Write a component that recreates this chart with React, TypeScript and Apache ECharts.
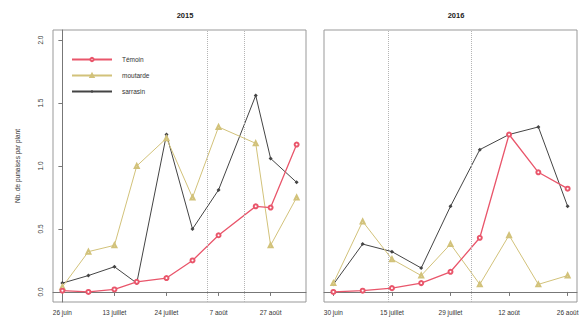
import React, { useEffect, useRef } from "react";
import * as echarts from "echarts";

// Sampling days (days since first sampling) for each year
const days2015 = [0, 7, 14, 20, 28, 35, 42, 52, 56, 63];
const days2016 = [0, 7, 14, 21, 28, 35, 42, 49, 56];

// Series values (Nb. de punaises par plant)
const temoin2015 = [0.01, 0.0, 0.02, 0.08, 0.11, 0.25, 0.45, 0.68, 0.67, 1.17];
const moutarde2015 = [0.04, 0.32, 0.37, 1.0, 1.22, 0.75, 1.31, 1.18, 0.37, 0.75];
const sarrasin2015 = [0.07, 0.13, 0.2, 0.07, 1.25, 0.5, 0.81, 1.56, 1.06, 0.87];

const temoin2016 = [0.0, 0.01, 0.03, 0.07, 0.16, 0.43, 1.25, 0.95, 0.82];
const moutarde2016 = [0.07, 0.56, 0.26, 0.13, 0.38, 0.06, 0.45, 0.06, 0.13];
const sarrasin2016 = [0.06, 0.38, 0.32, 0.19, 0.68, 1.13, 1.25, 1.31, 0.68];

// Tick positions (days) and labels
const tickDays = [0, 14, 28, 42, 56];
const tickLabels2015 = ["26 juin", "13 juillet", "24 juillet", "7 août", "27 août"];
const tickLabels2016 = ["30 juin", "15 juillet", "29 juillet", "12 août", "26 août"];
const yTicks = [0, 0.5, 1.0, 1.5, 2.0];

// Vertical reference lines (days)
const vlines2015 = [39, 49];
const vlines2016 = [13, 33];

const seriesNames = ["Témoin", "moutarde", "sarrasin"];
const colors = ["#e9566b", "#d2c27a", "#444444"];
const symbols = ["emptyCircle", "emptyTriangle", "diamond"];

const FONT = "Liberation Sans, Arial, sans-serif";

function pair(days: number[], vals: number[]) {
  return days.map((d, i) => [d, vals[i]]);
}

export default function App() {
  const ref = useRef<HTMLDivElement>(null);
  useEffect(() => {
    if (!ref.current) return;
    const chart = echarts.init(ref.current, undefined, { renderer: "svg" });

    const xAxisBase = (gridIndex: number, min: number, max: number, labels: string[]) => ({
      type: "value",
      gridIndex,
      min,
      max,
      axisLine: { show: true, lineStyle: { color: "#777", width: 1 } },
      axisTick: {
        show: true,
        length: 4,
        customValues: tickDays,
        lineStyle: { color: "#777" },
      },
      axisLabel: {
        show: true,
        customValues: tickDays,
        margin: 7,
        fontSize: 6.5,
        color: "#333",
        fontFamily: FONT,
        formatter: (v: number) => {
          const i = tickDays.indexOf(Math.round(v));
          return i >= 0 ? labels[i] : "";
        },
      },
      splitLine: { show: false },
    });

    const yAxisBase = (gridIndex: number, showLabels: boolean) => ({
      type: "value",
      gridIndex,
      min: -0.08,
      max: 2.08,
      name: showLabels ? "Nb. de punaises par plant" : "",
      nameLocation: "middle",
      nameGap: 32,
      nameRotate: 90,
      nameTextStyle: { fontSize: 6.5, color: "#333", fontFamily: FONT },
      axisLine: { show: showLabels, lineStyle: { color: "#777" } },
      axisTick: {
        show: showLabels,
        length: 4,
        customValues: yTicks,
        lineStyle: { color: "#777" },
      },
      axisLabel: {
        show: showLabels,
        customValues: yTicks,
        rotate: 90,
        margin: 9,
        fontSize: 6.5,
        color: "#333",
        fontFamily: FONT,
        formatter: (v: number) => v.toFixed(1),
      },
      splitLine: { show: false },
    });

    const makeSeries = (
      gridIdx: number,
      days: number[],
      data: number[][],
      vlines: number[]
    ) =>
      data.map((vals, k) => ({
        name: seriesNames[k],
        type: "line",
        xAxisIndex: gridIdx,
        yAxisIndex: gridIdx,
        data: pair(days, vals),
        color: colors[k],
        symbol: symbols[k],
        symbolSize: 4,
        lineStyle: { width: k === 0 ? 1.3 : 1, color: colors[k] },
        itemStyle: { color: colors[k], borderWidth: 1 },
        z: 3 - k,
        markLine:
          k === 0
            ? {
                silent: true,
                symbol: "none",
                label: { show: false },
                lineStyle: { type: "dotted", color: "#b5b5b5", width: 1 },
                data: vlines.map((v) => ({ xAxis: v })),
              }
            : undefined,
      }));

    chart.setOption({
      animation: false,
      backgroundColor: "#ffffff",
      title: [
        {
          text: "2015",
          left: 180,
          top: 6,
          textAlign: "center",
          textStyle: { fontSize: 7.5, fontWeight: "bold", color: "#222", fontFamily: FONT },
        },
        {
          text: "2016",
          left: 451,
          top: 6,
          textAlign: "center",
          textStyle: { fontSize: 7.5, fontWeight: "bold", color: "#222", fontFamily: FONT },
        },
      ],
      legend: {
        data: seriesNames,
        orient: "vertical",
        left: 66,
        top: 51,
        itemWidth: 40,
        itemHeight: 4,
        itemGap: 9,
        textStyle: { fontSize: 6.5, color: "#333", fontFamily: FONT, padding: [0, 0, 0, 5] },
      },
      grid: [
        {
          left: 53,
          top: 30,
          width: 253,
          height: 272,
          show: true,
          borderColor: "#999",
          borderWidth: 1,
          backgroundColor: "transparent",
        },
        {
          left: 324,
          top: 30,
          width: 253,
          height: 272,
          show: true,
          borderColor: "#999",
          borderWidth: 1,
          backgroundColor: "transparent",
        },
      ],
      xAxis: [
        xAxisBase(0, -2.52, 65.52, tickLabels2015),
        xAxisBase(1, -2.24, 58.24, tickLabels2016),
      ],
      yAxis: [yAxisBase(0, true), yAxisBase(1, false)],
      series: [
        ...makeSeries(0, days2015, [temoin2015, moutarde2015, sarrasin2015], vlines2015),
        ...makeSeries(1, days2016, [temoin2016, moutarde2016, sarrasin2016], vlines2016),
      ],
    });
    return () => chart.dispose();
  }, []);
  return (
    <div
      ref={ref}
      style={{ width: 583, height: 326, position: "absolute", left: 0, top: 0 }}
    />
  );
}
